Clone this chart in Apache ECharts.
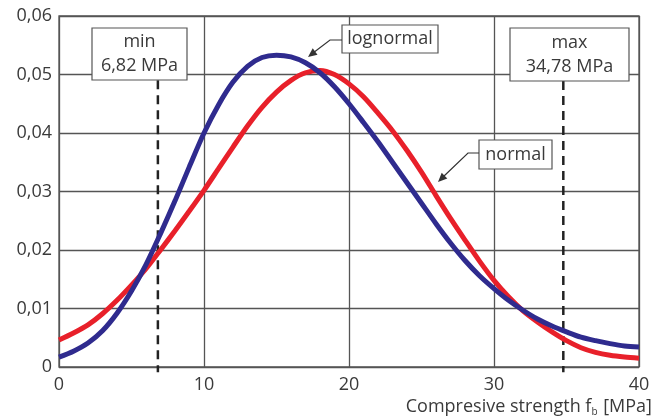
<!DOCTYPE html>
<html>
<head>
<meta charset="utf-8">
<script src="https://cdn.jsdelivr.net/npm/echarts@6/dist/echarts.min.js"></script>
<style>
  html, body { margin: 0; padding: 0; background: #fff; }
  #chart { width: 655px; height: 419px; }
</style>
</head>
<body>
<div id="chart"></div>
<script>
  const strength = [0, 1, 2, 3, 4, 5, 6, 7, 8, 9, 10, 11, 12, 13, 14, 15, 16, 17, 18, 19, 20,
    21, 22, 23, 24, 25, 26, 27, 28, 29, 30, 31, 32, 33, 34, 35, 36, 37, 38, 39, 40]
  // probability density, lognormal fit
  const lognormal = [0.0017, 0.0027, 0.0041, 0.0062, 0.0092, 0.0130, 0.0175, 0.0228, 0.0284, 0.0343, 0.0400,
    0.0448, 0.0487, 0.0514, 0.0529, 0.0533, 0.0530, 0.0520, 0.0503, 0.0479, 0.0450,
    0.0418, 0.0385, 0.0350, 0.0315, 0.0280, 0.0245, 0.0212, 0.0182, 0.0156, 0.0134,
    0.0114, 0.0097, 0.0082, 0.0070, 0.0060, 0.0051, 0.0045, 0.0040, 0.0036, 0.0034]
  // probability density, normal fit
  const normal = [0.0046, 0.0058, 0.0072, 0.0091, 0.0114, 0.0140, 0.0168, 0.0200, 0.0233, 0.0267, 0.0302,
    0.0339, 0.0376, 0.0412, 0.0444, 0.0470, 0.0490, 0.0503, 0.0507, 0.0500, 0.0484,
    0.0462, 0.0434, 0.0404, 0.0370, 0.0333, 0.0293, 0.0254, 0.0217, 0.0181, 0.0148,
    0.0120, 0.0096, 0.0077, 0.0060, 0.0045, 0.0033, 0.0025, 0.0020, 0.0017, 0.0015]
  const minStrength = 6.82
  const maxStrength = 34.78
  const yTicks = ['0', '0,01', '0,02', '0,03', '0,04', '0,05', '0,06']

  const font = '"Open Sans", "Noto Sans", sans-serif'
  const pair = (xs, ys) => xs.map((x, i) => [x, ys[i]])

  const chart = echarts.init(document.getElementById('chart'))

  chart.setOption({
    animation: false,
    grid: {
      left: 59, right: 15, top: 16, bottom: 52,
      show: true, borderColor: '#555', borderWidth: 1.3
    },
    xAxis: {
      type: 'value', min: 0, max: 40, interval: 10,
      axisLine: { show: false },
      axisTick: { show: false },
      splitLine: { lineStyle: { color: '#555', width: 1.3 } },
      axisLabel: { color: '#3a3a3a', fontSize: 18, fontFamily: font, margin: 9 },
      name: 'Compresive strength f{sub|b} [MPa]',
      nameLocation: 'end',
      nameGap: 13,
      nameTextStyle: {
        color: '#3a3a3a', fontSize: 18, fontFamily: font,
        align: 'right', verticalAlign: 'top', padding: [29, 0, 0, 0],
        rich: { sub: { fontSize: 10, fontFamily: font, color: '#3a3a3a', padding: [11, 1, 0, 0] } }
      }
    },
    yAxis: {
      type: 'value', min: 0, max: 0.06, interval: 0.01,
      axisLine: { show: false },
      axisTick: { show: false },
      splitLine: { lineStyle: { color: '#555', width: 1.3 } },
      axisLabel: {
        color: '#3a3a3a', fontSize: 18, fontFamily: font, margin: 7,
        formatter: (v) => yTicks[Math.round(v * 100)]
      }
    },
    series: [
      {
        name: 'min', type: 'line', clip: false, symbol: 'none', z: 1,
        data: [[minStrength, 0.0490], [minStrength, -0.0009]],
        lineStyle: { color: '#222', width: 2.5, type: [9, 6] }
      },
      {
        name: 'max', type: 'line', clip: false, symbol: 'none', z: 1,
        data: [[maxStrength, 0.0489], [maxStrength, -0.0009]],
        lineStyle: { color: '#222', width: 2.5, type: [9, 6] }
      },
      {
        name: 'normal', type: 'line', smooth: 0.3, symbol: 'none', z: 3,
        data: pair(strength, normal),
        lineStyle: { color: '#e8202a', width: 5 }
      },
      {
        name: 'lognormal', type: 'line', smooth: 0.3, symbol: 'none', z: 4,
        data: pair(strength, lognormal),
        lineStyle: { color: '#2f2b8e', width: 5 }
      }
    ],
    graphic: [
      // min box
      { type: 'rect', shape: { x: 92, y: 28, width: 95, height: 52 }, z: 10,
        style: { fill: '#fff', stroke: '#555', lineWidth: 1.2 } },
      { type: 'text', x: 139.5, y: 54, z: 11,
        style: { text: 'min\n6,82 MPa', fill: '#3a3a3a', font: '18px ' + font, align: 'center', verticalAlign: 'middle', lineHeight: 24 } },
      // max box
      { type: 'rect', shape: { x: 510, y: 28, width: 119, height: 53 }, z: 10,
        style: { fill: '#fff', stroke: '#555', lineWidth: 1.2 } },
      { type: 'text', x: 569.5, y: 54.5, z: 11,
        style: { text: 'max\n34,78 MPa', fill: '#3a3a3a', font: '18px ' + font, align: 'center', verticalAlign: 'middle', lineHeight: 24 } },
      // lognormal label
      { type: 'rect', shape: { x: 342, y: 25, width: 96, height: 28 }, z: 10,
        style: { fill: '#fff', stroke: '#555', lineWidth: 1.2 } },
      { type: 'text', x: 390, y: 39, z: 11,
        style: { text: 'lognormal', fill: '#3a3a3a', font: '18px ' + font, align: 'center', verticalAlign: 'middle' } },
      { type: 'polyline', z: 10, shape: { points: [[342, 40], [330, 40], [313, 53]] },
        style: { stroke: '#333', lineWidth: 1.2, fill: null } },
      { type: 'polygon', z: 10, shape: { points: [[308, 57], [317.5, 54.7], [312.7, 48.3]] },
        style: { fill: '#333' } },
      // normal label
      { type: 'rect', shape: { x: 479, y: 140, width: 73, height: 29 }, z: 10,
        style: { fill: '#fff', stroke: '#555', lineWidth: 1.2 } },
      { type: 'text', x: 515.5, y: 154.5, z: 11,
        style: { text: 'normal', fill: '#3a3a3a', font: '18px ' + font, align: 'center', verticalAlign: 'middle' } },
      { type: 'polyline', z: 10, shape: { points: [[479, 153], [468, 153], [443, 177]] },
        style: { stroke: '#333', lineWidth: 1.2, fill: null } },
      { type: 'polygon', z: 10, shape: { points: [[438, 182], [447.3, 178.6], [441.7, 172.8]] },
        style: { fill: '#333' } }
    ]
  })
</script>
</body>
</html>
